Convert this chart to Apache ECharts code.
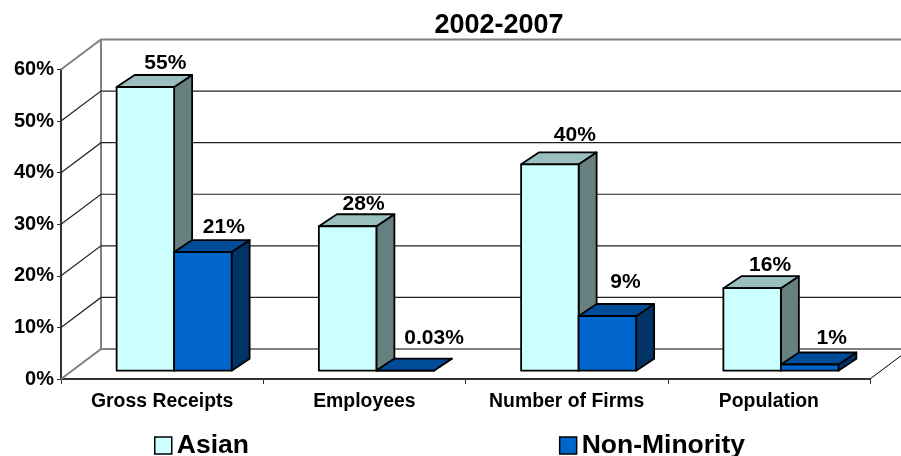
<!DOCTYPE html>
<html><head><meta charset="utf-8">
<style>html,body{margin:0;padding:0;background:#fff}#c{width:901px;height:456px}</style>
<script src="https://cdn.jsdelivr.net/npm/echarts@6/dist/echarts.min.js"></script>
</head><body><div id="c"></div>
<script>
const categories = ['Gross Receipts', 'Employees', 'Number of Firms', 'Population'];
const asianHeights = [55, 28, 40, 16];
const nonMinorityHeights = [23, 0.03, 10.6, 1.2];
const asianLabels = ['55%', '28%', '40%', '16%'];
const nonMinorityLabels = ['21%', '0.03%', '9%', '1%'];
const yTicks = [0, 10, 20, 30, 40, 50, 60];

const FONT = '"Liberation Sans", Arial, sans-serif';
const WALL_DX = 40, WALL_DY = -30;
const BASE_DX = 11, BASE_DY = -8.3;
const BAR_DX = 18, BAR_DY = -12;
const BAR_W = 57.5, CENTER_SHIFT = 1;
const labelNudgeX = { Asian: [0, -4, 5, -2], 'Non-Minority': [1, 9, -2, 2] };
const labelNudgeY = { Asian: [2, 3, -4, 3], 'Non-Minority': [1, -7, -8, -1] };

function wallItem(params, api) {
  const g = params.coordSys, v = api.value(1);
  const y = api.coord([0, v])[1];
  const edge = v === 0 || v === 60;
  const stroke = edge ? '#808080' : '#000';
  const children = [];
  children.push({ type: 'polyline', silent: true,
    shape: { points: [[g.x, y], [g.x + WALL_DX, y + WALL_DY], [g.x + g.width + WALL_DX, y + WALL_DY]] },
    style: { fill: 'none', stroke: edge ? '#808080' : '#222', lineWidth: edge ? 2 : 1.2 } });
  if (v === 0) {
    children.push({ type: 'line', silent: true,
      shape: { x1: g.x + WALL_DX, y1: y + WALL_DY, x2: g.x + WALL_DX, y2: g.y + WALL_DY },
      style: { stroke, lineWidth: 2 } });
    children.push({ type: 'line', silent: true,
      shape: { x1: g.x + g.width, y1: y, x2: g.x + g.width + WALL_DX, y2: y + WALL_DY },
      style: { stroke: '#000', lineWidth: 1 } });
  }
  return { type: 'group', children };
}

function barRenderer(name, sign, front, top, side, labels) {
  return function (params, api) {
    const i = api.value(0), h = api.value(1);
    const c = api.coord([i, 0]), t = api.coord([i, h]);
    const cx = c[0] + BASE_DX + CENTER_SHIFT;
    const x0 = sign < 0 ? cx - BAR_W : cx, x1 = x0 + BAR_W;
    const yb = c[1] + BASE_DY, yt = t[1] + BASE_DY;
    const line = { stroke: '#000', lineWidth: 1.8, lineJoin: 'round' };
    return { type: 'group', children: [
      { type: 'polygon', shape: { points: [[x1, yb], [x1 + BAR_DX, yb + BAR_DY], [x1 + BAR_DX, yt + BAR_DY], [x1, yt]] },
        style: Object.assign({ fill: side }, line) },
      { type: 'polygon', shape: { points: [[x0, yt], [x0 + BAR_DX, yt + BAR_DY], [x1 + BAR_DX, yt + BAR_DY], [x1, yt]] },
        style: Object.assign({ fill: top }, line) },
      { type: 'rect', shape: { x: x0, y: yt, width: BAR_W, height: yb - yt },
        style: Object.assign({ fill: front }, line) },
      { type: 'text', style: { text: labels[i], x: (x0 + x1) / 2 + 20 + labelNudgeX[name][i], y: yt + BAR_DY - 3 + labelNudgeY[name][i],
        align: 'center', verticalAlign: 'bottom', font: 'bold 21px ' + FONT, fill: '#000' } }
    ] };
  };
}

const chart = echarts.init(document.getElementById('c'));
chart.setOption({
  animation: false,
  backgroundColor: '#fff',
  title: { text: '2002-2007', left: 494, textAlign: 'center', top: 7,
    textStyle: { fontFamily: FONT, fontWeight: 'bold', fontSize: 27, color: '#000' } },
  grid: { left: 61, right: 31, top: 69.5, bottom: 77 },
  legend: { data: ['Asian', 'Non-Minority'], left: 154, top: 432, padding: 0, itemWidth: 17, itemHeight: 17, itemGap: 310,
    icon: 'rect', selectedMode: false,
    itemStyle: { borderColor: '#000', borderWidth: 1.5 },
    textStyle: { fontFamily: FONT, fontWeight: 'bold', fontSize: 26.5, color: '#000' } },
  xAxis: { type: 'category', data: categories, boundaryGap: true,
    axisLine: { lineStyle: { color: '#333', width: 2 } },
    axisTick: { show: true, alignWithLabel: false, length: 5, lineStyle: { color: '#333', width: 1 } },
    axisLabel: { fontFamily: FONT, fontWeight: 'bold', fontSize: 19.4, color: '#000', margin: 13 } },
  yAxis: { type: 'value', min: 0, max: 60, interval: 10, splitLine: { show: false },
    axisLine: { show: true, lineStyle: { color: '#333', width: 2 } },
    axisTick: { show: true, length: 4, lineStyle: { color: '#333', width: 1 } },
    axisLabel: { formatter: '{value}%', fontFamily: FONT, fontWeight: 'bold', fontSize: 20, color: '#000', margin: 7, padding: [0, 0, 2, 0] } },
  series: [
    { type: 'custom', name: 'walls', z: 1, silent: true, renderItem: wallItem, encode: { x: 0, y: 1 },
      data: yTicks.map(v => [0, v]) },
    { type: 'custom', name: 'Asian', z: 2, renderItem: barRenderer('Asian', -1, '#CCFFFF', '#99BFBF', '#668080', asianLabels),
      itemStyle: { color: '#CCFFFF' }, encode: { x: 0, y: 1 },
      data: asianHeights.map((v, i) => [i, v]) },
    { type: 'custom', name: 'Non-Minority', z: 3, renderItem: barRenderer('Non-Minority', 1, '#0066CC', '#004C99', '#003366', nonMinorityLabels),
      itemStyle: { color: '#0066CC' }, encode: { x: 0, y: 1 },
      data: nonMinorityHeights.map((v, i) => [i, v]) }
  ]
});
</script></body></html>
